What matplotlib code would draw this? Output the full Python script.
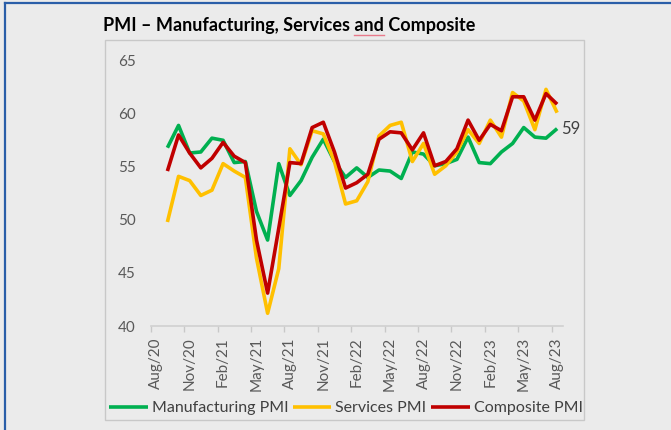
import matplotlib
matplotlib.use('Agg')
import matplotlib.pyplot as plt
from matplotlib.patches import Rectangle
from matplotlib.lines import Line2D

# India PMI, monthly, Sep/20 .. Aug/23 (axis categories start at Aug/20)
categories = ['Aug/20', 'Sep/20', 'Oct/20', 'Nov/20', 'Dec/20', 'Jan/21', 'Feb/21',
              'Mar/21', 'Apr/21', 'May/21', 'Jun/21', 'Jul/21', 'Aug/21', 'Sep/21',
              'Oct/21', 'Nov/21', 'Dec/21', 'Jan/22', 'Feb/22', 'Mar/22', 'Apr/22',
              'May/22', 'Jun/22', 'Jul/22', 'Aug/22', 'Sep/22', 'Oct/22', 'Nov/22',
              'Dec/22', 'Jan/23', 'Feb/23', 'Mar/23', 'Apr/23', 'May/23', 'Jun/23',
              'Jul/23', 'Aug/23']

manufacturing = [56.8, 58.9, 56.3, 56.4, 57.7, 57.5, 55.4, 55.5, 50.8, 48.1, 55.3, 52.3,
                 53.7, 55.9, 57.6, 55.5, 54.0, 54.9, 54.0, 54.7, 54.6, 53.9, 56.4, 56.2,
                 55.1, 55.3, 55.7, 57.8, 55.4, 55.3, 56.4, 57.2, 58.7, 57.8, 57.7, 58.6]
services = [49.8, 54.1, 53.7, 52.3, 52.8, 55.3, 54.6, 54.0, 46.4, 41.2, 45.4, 56.7,
            55.2, 58.4, 58.1, 55.5, 51.5, 51.8, 53.6, 57.9, 58.9, 59.2, 55.5, 57.2,
            54.3, 55.1, 56.4, 58.5, 57.2, 59.4, 57.8, 62.0, 61.2, 58.5, 62.3, 60.1]
composite = [54.6, 58.0, 56.3, 54.9, 55.8, 57.3, 56.0, 55.4, 48.1, 43.1, 49.2, 55.4,
             55.3, 58.7, 59.2, 56.4, 53.0, 53.5, 54.3, 57.6, 58.3, 58.2, 56.6, 58.2,
             55.1, 55.5, 56.7, 59.4, 57.5, 59.0, 58.4, 61.6, 61.6, 59.4, 61.9, 60.9]

series = [('Manufacturing PMI', manufacturing, '#00b050'),
          ('Services PMI', services, '#ffc000'),
          ('Composite PMI', composite, '#c00000')]

plt.rcParams['font.family'] = ['Lato', 'DejaVu Sans']

W, H = 671, 430
bg = '#ebebeb'
fig = plt.figure(figsize=(W / 100, H / 100), dpi=100, facecolor=bg)

def fx(px):
    return px / W

def fy(py):
    return 1 - py / H

# outer blue frame and inner chart box
fig.add_artist(Line2D([fx(4.5), fx(4.5)], [fy(3), 0], color='#2a5ea8', lw=1.6))
fig.add_artist(Line2D([fx(4.5), 1], [fy(3), fy(3)], color='#2a5ea8', lw=1.6))
fig.add_artist(Rectangle((fx(105), fy(420)), fx(584) - fx(105), fy(40) - fy(420),
                         transform=fig.transFigure, fill=False, ec='#c8c8c8', lw=1.0))

ax = fig.add_axes([fx(150.7), fy(326), fx(562.7) - fx(150.7), fy(60.7) - fy(326)])
ax.set_facecolor(bg)

x = list(range(1, len(categories)))
lines = []
for name, vals, col in series:
    ln, = ax.plot(x, vals, color=col, lw=2.6, label=name, solid_joinstyle='round',
                  solid_capstyle='butt')
    lines.append(ln)

ax.annotate(f'{manufacturing[-1]:.0f}', (x[-1], manufacturing[-1]), xytext=(3, 0),
            textcoords='offset points', va='center', ha='left', fontsize=12,
            color='#404040')

ax.set_xlim(-0.5, len(categories) - 0.5)
ax.set_ylim(40, 65)
ax.set_yticks([40, 45, 50, 55, 60, 65])
ax.tick_params(axis='y', length=0, pad=11, labelsize=11, labelcolor='#595959')

# tick marks between category groups, labels on every third month
ax.set_xticks([i - 0.5 for i in range(0, len(categories), 3)])
ax.set_xticklabels([])
ax.set_xticks(list(range(0, len(categories), 3)), minor=True)
ax.set_xticklabels(categories[::3], minor=True, rotation=90)
ax.tick_params(axis='x', which='major', length=4, color='#c8c8c8', width=1)
ax.tick_params(axis='x', which='minor', length=0, pad=8, labelsize=11,
               labelcolor='#595959')

for s in ['top', 'right', 'left']:
    ax.spines[s].set_visible(False)
ax.spines['bottom'].set_color('#d0d0d0')
ax.spines['bottom'].set_linewidth(1.2)

fig.legend(handles=lines, loc='center', bbox_to_anchor=(fx(346), fy(408)), ncol=3,
           frameon=False, fontsize=11.5, handlelength=2.4, handletextpad=0.25,
           columnspacing=0.3, labelcolor='#404040', borderpad=0, borderaxespad=0)

title = 'PMI – Manufacturing, Services and Composite'
tkw = dict(fontsize=13, fontweight='bold', va='baseline', ha='left')
fig.text(fx(103), fy(31), title, color='black', **tkw)

# squiggle-style underline under "and"
fig.canvas.draw()
r = fig.canvas.get_renderer()
upto = fig.text(fx(103), fy(31), 'PMI – Manufacturing, Services and', **tkw)
word = fig.text(fx(103), fy(31), 'and', **tkw)
x1 = upto.get_window_extent(r).x1
w = word.get_window_extent(r).width
upto.remove()
word.remove()
fig.add_artist(Line2D([(x1 - w) / W, x1 / W], [fy(34.5), fy(34.5)], color='#e8798a',
                      lw=1.0))

fig.savefig('out.png', dpi=100, facecolor=bg)
